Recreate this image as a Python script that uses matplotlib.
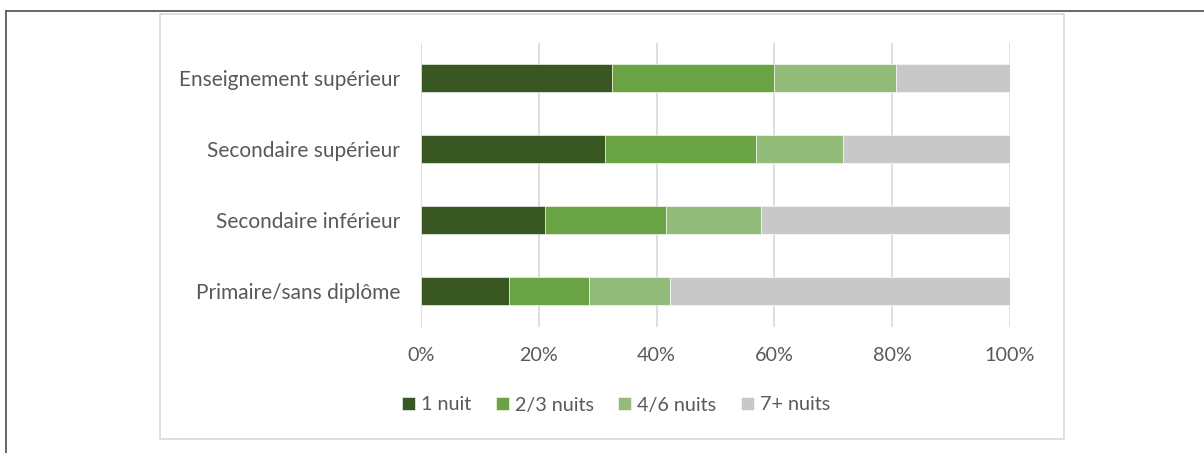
import matplotlib.pyplot as plt
from matplotlib.patches import Rectangle
from matplotlib.lines import Line2D

plt.rcParams['font.family'] = ['Lato', 'DejaVu Sans']

# data (percent of each education level)
categories = ["Primaire/sans diplôme", "Secondaire inférieur",
              "Secondaire supérieur", "Enseignement supérieur"]
series_names = ["1 nuit", "2/3 nuits", "4/6 nuits", "7+ nuits"]
nuit_1 = [15.0, 21.1, 31.3, 32.4]
nuits_2_3 = [13.5, 20.5, 25.6, 27.5]
nuits_4_6 = [13.7, 16.1, 14.8, 20.8]
nuits_7 = [57.8, 42.3, 28.3, 19.3]
colors = ["#385723", "#6aa343", "#93bc7b", "#c8c8c8"]
xticks = [0, 20, 40, 60, 80, 100]

txt = "#595959"
fig = plt.figure(figsize=(12.04, 4.53), dpi=100)

# frame lines around the page and the chart box
fig.add_artist(Line2D([6/1204, 1], [1 - 11/453, 1 - 11/453], color="#5a5a5a", lw=1.3))
fig.add_artist(Line2D([6/1204, 6/1204], [0, 1 - 11/453], color="#5a5a5a", lw=1.3))
fig.add_artist(Rectangle((160/1204, 1 - 439/453), 904/1204, 425/453,
                         fill=False, edgecolor="#d9d9d9", lw=1.2))

ax = fig.add_axes([421/1204, 1 - 326.5/453, 589/1204, 284/453])

left = [0] * len(categories)
for name, vals, c in zip(series_names, [nuit_1, nuits_2_3, nuits_4_6, nuits_7], colors):
    ax.barh(categories, vals, left=left, height=0.4, color=c, label=name,
            edgecolor="white", linewidth=0.4, zorder=3)
    left = [l + v for l, v in zip(left, vals)]

ax.set_xlim(0, 100)
ax.set_ylim(-0.5, 3.5)
ax.set_xticks(xticks)
ax.set_xticklabels([f"{x}%" for x in xticks])
ax.grid(axis="x", color="#d9d9d9", lw=1.2, zorder=0)
for s in ax.spines.values():
    s.set_visible(False)
ax.tick_params(length=0, labelcolor=txt)
ax.tick_params(axis="x", pad=15, labelsize=14.2)
ax.tick_params(axis="y", pad=15, labelsize=15)

fig.legend(loc="center", bbox_to_anchor=(616/1204, 1 - 405/453), ncol=4,
           frameon=False, fontsize=14.2, labelcolor=txt, handlelength=0.65,
           handleheight=0.65, handletextpad=0.3, columnspacing=1.25)

fig.savefig("out.png", dpi=100)
